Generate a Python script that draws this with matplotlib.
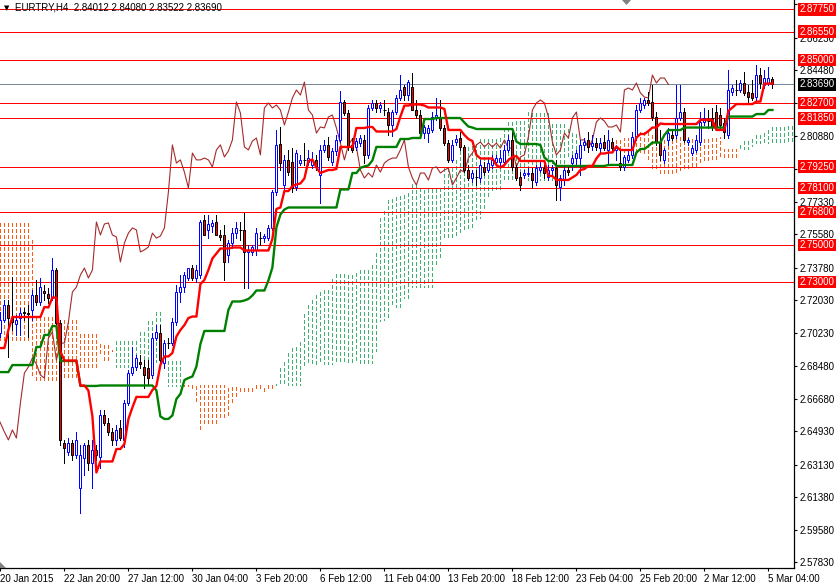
import numpy as np
import matplotlib
matplotlib.use("Agg")
import matplotlib.pyplot as plt
from matplotlib.collections import LineCollection
from matplotlib.patches import Polygon

# EURTRY H4 bar verileri (20 Ocak - 5 Mart 2015)
opens = [
    2.7024, 2.7095, 2.7176, 2.7106, 2.7073, 2.7106, 2.7138, 2.7133, 2.7149, 2.7230,
    2.7192, 2.7252, 2.7235, 2.7214, 2.7365, 2.7079, 2.6429, 2.6381, 2.6429, 2.6364,
    2.6186, 2.6348, 2.6419, 2.6321, 2.6392, 2.6354, 2.6581, 2.6538, 2.6489, 2.6446,
    2.6511, 2.6446, 2.6646, 2.6808, 2.6841, 2.6868, 2.6841, 2.6835, 2.6797, 2.6997,
    2.7024, 2.6862, 2.6970, 2.6970, 2.7084, 2.7246, 2.7273, 2.7322, 2.7376, 2.7322,
    2.7338, 2.7636, 2.7582, 2.7603, 2.7625, 2.7555, 2.7555, 2.7446, 2.7511, 2.7565,
    2.7582, 2.7582, 2.7463, 2.7463, 2.7474, 2.7538, 2.7538, 2.7538, 2.7593, 2.7787,
    2.8047, 2.7825, 2.7961, 2.7950, 2.7814, 2.7944, 2.7961, 2.7950, 2.7933, 2.7961,
    2.7879, 2.8015, 2.8042, 2.7950, 2.8009, 2.8069, 2.8274, 2.8215, 2.8042, 2.8031,
    2.8052, 2.8069, 2.7988, 2.8242, 2.8269, 2.8242, 2.8231, 2.8220, 2.8150, 2.8220,
    2.8296, 2.8355, 2.8312, 2.8355, 2.8231, 2.8204, 2.8106, 2.8106, 2.8123, 2.8193,
    2.8193, 2.8134, 2.8052, 2.7961, 2.8058, 2.8079, 2.8031, 2.7906, 2.7863, 2.7868,
    2.7863, 2.7923, 2.7906, 2.7933, 2.7950, 2.7950, 2.7950, 2.8015, 2.8069, 2.7923,
    2.7868, 2.7879, 2.7885, 2.7890, 2.7841, 2.7906, 2.7917, 2.7868, 2.7906, 2.7917,
    2.7814, 2.7852, 2.7906, 2.7944, 2.7971, 2.7971, 2.8042, 2.8069, 2.8036, 2.8052,
    2.8025, 2.8058, 2.8015, 2.8058, 2.8015, 2.7944, 2.7923, 2.7961, 2.7988, 2.8085,
    2.8231, 2.8258, 2.8285, 2.8274, 2.8193, 2.8058, 2.7961, 2.8069, 2.8096, 2.8096,
    2.8188, 2.8220, 2.8058, 2.7998, 2.8015, 2.8058, 2.8166, 2.8171, 2.8188, 2.8220,
    2.8204, 2.8161, 2.8096, 2.8328, 2.8339, 2.8339, 2.8377, 2.8328, 2.8323, 2.8301,
    2.8420, 2.8366, 2.8377, 2.84012,
]
highs = [
    2.7138, 2.7203, 2.7203, 2.7327, 2.7122, 2.7160, 2.7160, 2.7176, 2.7257, 2.7311,
    2.7322, 2.7284, 2.7268, 2.7430, 2.7376, 2.7095, 2.6446, 2.6456, 2.6446, 2.6489,
    2.6419, 2.6429, 2.6446, 2.6446, 2.6419, 2.6608, 2.6608, 2.6565, 2.6511, 2.6527,
    2.6554, 2.6662, 2.6824, 2.6949, 2.6905, 2.6905, 2.6878, 2.6878, 2.7024, 2.7068,
    2.7068, 2.6987, 2.6997, 2.7106, 2.7284, 2.7338, 2.7354, 2.7376, 2.7392, 2.7392,
    2.7636, 2.7663, 2.7663, 2.7636, 2.7663, 2.7582, 2.7609, 2.7528, 2.7593, 2.7625,
    2.7625, 2.7674, 2.7501, 2.7501, 2.7593, 2.7571, 2.7560, 2.7609, 2.7798, 2.8123,
    2.8139, 2.7988, 2.8015, 2.8025, 2.8015, 2.7988, 2.8052, 2.8015, 2.8004, 2.7988,
    2.8042, 2.8069, 2.8085, 2.8025, 2.8096, 2.8334, 2.8285, 2.8231, 2.8079, 2.8079,
    2.8096, 2.8096, 2.8258, 2.8285, 2.8285, 2.8274, 2.8285, 2.8242, 2.8231, 2.8312,
    2.8420, 2.8366, 2.8393, 2.8431, 2.8285, 2.8231, 2.8150, 2.8150, 2.8220, 2.8296,
    2.8285, 2.8150, 2.8069, 2.8069, 2.8096, 2.8112, 2.8042, 2.7933, 2.7906, 2.7906,
    2.7961, 2.7950, 2.7971, 2.7988, 2.7988, 2.8015, 2.8042, 2.8096, 2.8112, 2.7933,
    2.7895, 2.7906, 2.7917, 2.7917, 2.7933, 2.7950, 2.7933, 2.7933, 2.7933, 2.7961,
    2.7879, 2.7933, 2.7933, 2.7988, 2.8015, 2.8069, 2.8079, 2.8112, 2.8096, 2.8079,
    2.8079, 2.8096, 2.8123, 2.8079, 2.8042, 2.8015, 2.7988, 2.8015, 2.8112, 2.8258,
    2.8296, 2.8296, 2.8328, 2.8366, 2.8220, 2.8123, 2.8025, 2.8134, 2.8123, 2.8366,
    2.8366, 2.8242, 2.8079, 2.8042, 2.8096, 2.8220, 2.8242, 2.8231, 2.8242, 2.8258,
    2.8242, 2.8188, 2.8447, 2.8366, 2.8393, 2.8393, 2.8436, 2.8366, 2.8393, 2.8474,
    2.8458, 2.8447, 2.8464, 2.84080,
]
lows = [
    2.7003, 2.7084, 2.6895, 2.7041, 2.7014, 2.7014, 2.7095, 2.7003, 2.7095, 2.7176,
    2.7176, 2.7203, 2.7187, 2.7203, 2.7041, 2.6419, 2.6321, 2.6364, 2.6337, 2.6348,
    2.6051, 2.6256, 2.6283, 2.6186, 2.6337, 2.6294, 2.6527, 2.6473, 2.6419, 2.6419,
    2.6446, 2.6408, 2.6635, 2.6797, 2.6824, 2.6835, 2.6727, 2.6743, 2.6781, 2.6987,
    2.6851, 2.6835, 2.6943, 2.6960, 2.7068, 2.7192, 2.7246, 2.7311, 2.7311, 2.7300,
    2.7322, 2.7555, 2.7538, 2.7571, 2.7555, 2.7528, 2.7311, 2.7409, 2.7484, 2.7538,
    2.7528, 2.7268, 2.7268, 2.7446, 2.7446, 2.7501, 2.7517, 2.7528, 2.7582, 2.7771,
    2.7906, 2.7798, 2.7879, 2.7787, 2.7798, 2.7933, 2.7933, 2.7933, 2.7917, 2.7906,
    2.7728, 2.8004, 2.7961, 2.7933, 2.7988, 2.8058, 2.8204, 2.8015, 2.8004, 2.8015,
    2.8036, 2.7944, 2.7971, 2.8231, 2.8220, 2.8220, 2.8204, 2.8096, 2.8090, 2.8209,
    2.8285, 2.8285, 2.8285, 2.8231, 2.8188, 2.8096, 2.8079, 2.8058, 2.8112, 2.8177,
    2.8123, 2.8042, 2.7950, 2.7950, 2.8042, 2.8015, 2.7895, 2.7852, 2.7841, 2.7825,
    2.7841, 2.7879, 2.7895, 2.7917, 2.7933, 2.7933, 2.7933, 2.8004, 2.7906, 2.7852,
    2.7798, 2.7863, 2.7874, 2.7809, 2.7825, 2.7895, 2.7863, 2.7852, 2.7879, 2.7744,
    2.7744, 2.7825, 2.7879, 2.7906, 2.7933, 2.7879, 2.8015, 2.8004, 2.8015, 2.8015,
    2.8004, 2.8015, 2.7944, 2.8004, 2.7961, 2.7906, 2.7906, 2.7950, 2.7971, 2.8069,
    2.8220, 2.8242, 2.8258, 2.8177, 2.8042, 2.7961, 2.7944, 2.8042, 2.8069, 2.8079,
    2.8177, 2.8058, 2.8042, 2.7988, 2.8004, 2.8042, 2.8150, 2.8134, 2.8123, 2.8123,
    2.8134, 2.8079, 2.8079, 2.8312, 2.8312, 2.8328, 2.8312, 2.8274, 2.8285, 2.8285,
    2.8350, 2.8350, 2.8366, 2.83522,
]
closes = [
    2.7095, 2.7176, 2.7106, 2.7084, 2.7095, 2.7133, 2.7133, 2.7127, 2.7230, 2.7192,
    2.7273, 2.7241, 2.7214, 2.7365, 2.7079, 2.6446, 2.6402, 2.6429, 2.6364, 2.6446,
    2.6364, 2.6419, 2.6321, 2.6392, 2.6364, 2.6581, 2.6538, 2.6489, 2.6446, 2.6500,
    2.6456, 2.6646, 2.6808, 2.6841, 2.6889, 2.6857, 2.6797, 2.6781, 2.6997, 2.7030,
    2.6878, 2.6970, 2.6970, 2.7084, 2.7246, 2.7273, 2.7338, 2.7376, 2.7322, 2.7365,
    2.7625, 2.7555, 2.7614, 2.7620, 2.7555, 2.7544, 2.7409, 2.7511, 2.7565, 2.7593,
    2.7582, 2.7463, 2.7474, 2.7490, 2.7565, 2.7538, 2.7549, 2.7593, 2.7787, 2.8042,
    2.7944, 2.7961, 2.7895, 2.7809, 2.7998, 2.7961, 2.7961, 2.7971, 2.7961, 2.7923,
    2.8015, 2.8042, 2.7977, 2.8009, 2.8069, 2.8274, 2.8215, 2.8031, 2.8015, 2.8063,
    2.8079, 2.7988, 2.8242, 2.8269, 2.8242, 2.8258, 2.8231, 2.8150, 2.8220, 2.8296,
    2.8339, 2.8312, 2.8382, 2.8231, 2.8204, 2.8106, 2.8139, 2.8134, 2.8193, 2.8204,
    2.8134, 2.8052, 2.7961, 2.8042, 2.8074, 2.8031, 2.7906, 2.7863, 2.7890, 2.7868,
    2.7933, 2.7895, 2.7944, 2.7961, 2.7971, 2.7971, 2.8015, 2.8069, 2.7923, 2.7863,
    2.7825, 2.7890, 2.7890, 2.7852, 2.7917, 2.7923, 2.7890, 2.7906, 2.7917, 2.7825,
    2.7863, 2.7906, 2.7895, 2.7971, 2.7998, 2.8042, 2.8058, 2.8031, 2.8052, 2.8031,
    2.8052, 2.8025, 2.8069, 2.8025, 2.8025, 2.7923, 2.7977, 2.7988, 2.8085, 2.8231,
    2.8269, 2.8285, 2.8269, 2.8193, 2.8058, 2.7988, 2.8015, 2.8106, 2.8079, 2.8188,
    2.8220, 2.8069, 2.8069, 2.8025, 2.8069, 2.8166, 2.8188, 2.8171, 2.8139, 2.8139,
    2.8150, 2.8112, 2.8339, 2.8350, 2.8339, 2.8377, 2.8323, 2.8301, 2.8296, 2.8420,
    2.8377, 2.8404, 2.8404, 2.83690,
]

# Grafigin basindan onceki gecmise bagli Ichimoku degerleri
tenkan_pre = [2.6943, 2.6943, 2.7041, 2.7111, 2.7111, 2.7111, 2.7111, 2.7111]
kijun_pre = [2.6813] * 3 + [2.6851] * 6 + [2.6949] * 2 + [2.7014] * 2 + [2.7062] * 2 + [2.6873] * 5 + [2.6738] * 5
span_a_pre = [2.6987] * 8 + [2.6797] + [2.6770] * 6 + [2.6786] * 5 + [2.6841] * 5 + [2.6916]
span_b_pre = ([2.7625] * 8 + [2.7538] + [2.7111] * 11 + [2.7024] * 5 + [2.6970] * 3 + [2.6933]
              + [2.6841] * 6 + [2.6868] * 7 + [2.6738] * 4)

# Yatay seviyeler
seviyeler = [2.8775, 2.8655, 2.8500, 2.8270, 2.8185, 2.7925, 2.7810, 2.7680, 2.7500, 2.7300]
son_fiyat = 2.83690

fiyat_etiketleri = [2.57830, 2.59580, 2.61380, 2.63130, 2.64930, 2.66680, 2.68480, 2.70230,
                    2.72030, 2.73780, 2.75580, 2.77330, 2.79130, 2.80880, 2.82680, 2.84480,
                    2.86230, 2.88030]
# seviye kutularinin tamamen ortdugu etiketler
gizli_etiketler = [2.79130, 2.82680, 2.88030]
tarih_etiketleri = ["20 Jan 2015", "22 Jan 20:00", "27 Jan 12:00", "30 Jan 04:00", "3 Feb 20:00",
                    "6 Feb 12:00", "11 Feb 04:00", "13 Feb 20:00", "18 Feb 12:00", "23 Feb 04:00",
                    "25 Feb 20:00", "2 Mar 12:00", "5 Mar 04:00"]

plt.rcParams['font.family'] = ['Liberation Sans', 'DejaVu Sans']

O = np.array(opens)
H = np.array(highs)
L = np.array(lows)
C = np.array(closes)
n = len(C)
x = np.arange(n)

# Ichimoku hesaplari
tenkan = np.empty(n)
kijun = np.empty(n)
for i in range(n):
    tenkan[i] = tenkan_pre[i] if i < 8 else (H[i - 8:i + 1].max() + L[i - 8:i + 1].min()) / 2
    kijun[i] = kijun_pre[i] if i < 25 else (H[i - 25:i + 1].max() + L[i - 25:i + 1].min()) / 2

span_a = np.empty(n + 26)
span_a[:26] = span_a_pre
span_a[26:] = (tenkan + kijun) / 2
span_b = np.empty(n + 26)
span_b[:46] = span_b_pre
for t in range(46, n + 26):
    j = t - 26
    lo = max(0, j - 51)
    span_b[t] = (H[lo:j + 1].max() + L[lo:j + 1].min()) / 2

fig = plt.figure(figsize=(8.36, 5.84), dpi=100)
ax = fig.add_axes([0, 16 / 584, 794 / 836, 568 / 584])
ax.set_xlim(-0.1, 198.4)
ax.set_ylim(2.8826 - 0.000541 * 568, 2.8826)

# Bulut (noktali dikey cizgiler)
seg_tur, seg_yes = [], []
for t in range(n + 26):
    seg = [(t, span_a[t]), (t, span_b[t])]
    if span_b[t] > span_a[t]:
        seg_tur.append(seg)
    else:
        seg_yes.append(seg)
ax.add_collection(LineCollection(seg_tur, colors='#FF5A10', linewidths=0.72,
                                 linestyles=[(0, (3, 2.5))], antialiased=False, zorder=1))
ax.add_collection(LineCollection(seg_yes, colors='#3CB371', linewidths=0.72,
                                 linestyles=[(0, (3, 2.5))], antialiased=False, zorder=1))

# Yatay cizgiler
for s in seviyeler:
    ax.axhline(s, color='#FF0000', lw=0.72, antialiased=False, zorder=2)
ax.axhline(son_fiyat, color='#778899', lw=0.72, antialiased=False, zorder=2)

# Chikou
ax.plot(x - 26, C, color='#A52A2A', lw=0.8, zorder=3)

# Mumlar
up = C > O + 1e-5
down = C < O - 1e-5
doji = ~(up | down)
ax.vlines(x[up], L[up], H[up], color='#0000FF', lw=0.72, antialiased=False, zorder=4)
ax.vlines(x[~up], L[~up], H[~up], color='black', lw=0.72, antialiased=False, zorder=4)
ax.bar(x[up], (C - O)[up], bottom=O[up], width=0.5, color='white', edgecolor='#0000FF',
       lw=0.72, zorder=5)
ax.bar(x[down], (O - C)[down], bottom=C[down], width=0.5, color='#FF0000', edgecolor='black',
       lw=0.72, zorder=5)
ax.hlines(O[doji], x[doji] - 0.35, x[doji] + 0.35, color='black', lw=0.72, zorder=5)

# Tenkan / Kijun
ax.plot(x, kijun, color='#008000', lw=1.7, zorder=6)
ax.plot(x, tenkan, color='#FF0000', lw=1.7, zorder=7)

# Eksenler
for sp in ['left', 'top']:
    ax.spines[sp].set_visible(False)
for sp in ['right', 'bottom']:
    ax.spines[sp].set_color('black')
    ax.spines[sp].set_linewidth(0.9)
ax.yaxis.tick_right()
ax.set_yticks(fiyat_etiketleri)
ax.set_yticklabels(["" if v in gizli_etiketler else f"{v:.5f}" for v in fiyat_etiketleri])
ax.set_xticks(np.arange(0, 16 * len(tarih_etiketleri), 16))
ax.set_xticklabels(tarih_etiketleri, ha='left')
ax.tick_params(axis='both', direction='out', length=2.5, width=0.8, labelsize=7, pad=1.5,
               colors='black')

# Seviye etiketleri
for s in seviyeler:
    ax.annotate(f"{s:.5f}", xy=(1.0, s), xycoords=('axes fraction', 'data'),
                xytext=(4, 0), textcoords='offset points', va='center', ha='left',
                fontsize=7, color='white', annotation_clip=False, zorder=10,
                bbox=dict(boxstyle='square,pad=0.12', fc='#FF0000', ec='none'))
ax.annotate(f"{son_fiyat:.5f}", xy=(1.0, son_fiyat), xycoords=('axes fraction', 'data'),
            xytext=(4, 0), textcoords='offset points', va='center', ha='left',
            fontsize=7, color='white', annotation_clip=False, zorder=10,
            bbox=dict(boxstyle='square,pad=0.12', fc='black', ec='none'))

# Baslik
fig.text(4 / 836, 1 - 8 / 584, "\u25BC", fontsize=5, color='black', va='center',
         family=['DejaVu Sans'])
fig.text(15 / 836, 1 - 8 / 584, "EURTRY,H4  2.84012 2.84080 2.83522 2.83690", fontsize=7,
         color='black', va='center')

# Kaydirma isaretleri
fig.patches.append(Polygon([[622 / 836, 1.0], [631 / 836, 1.0], [626.5 / 836, 1 - 5 / 584]],
                           closed=True, fc='#808080', ec='none', transform=fig.transFigure))
fig.patches.append(Polygon([[0, 16 / 584], [6 / 836, 16 / 584], [0, 22 / 584]],
                           closed=True, fc='#808080', ec='none', transform=fig.transFigure))

plt.savefig("out.png", dpi=100)
plt.close()
